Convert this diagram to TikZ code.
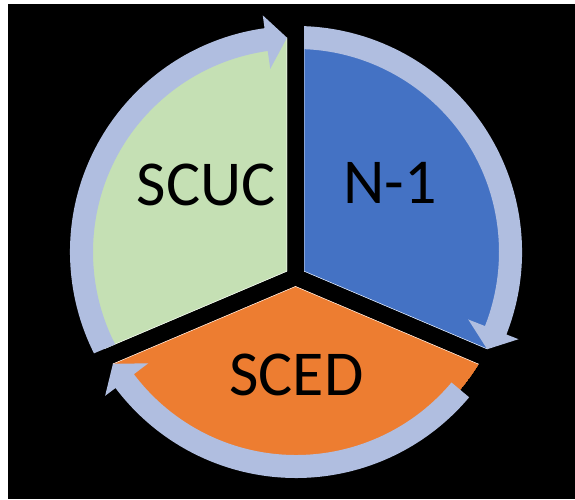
\documentclass[tikz,border=0pt]{standalone}
\usepackage{fontspec}
\setmainfont{Carlito}
\usepackage{tikz}
\usetikzlibrary{calc}

\definecolor{ringblue}{RGB}{176,190,224}
\definecolor{scucgreen}{RGB}{197,224,180}
\definecolor{nblue}{RGB}{68,114,196}
\definecolor{scedorange}{RGB}{237,125,49}

% ring piece: #1 start angle, #2 head base, #3 tip
\newcommand\cyclearrow[3]{%
  \fill[ring] ($(C)+(#1:203)$) arc[start angle=#1,end angle=#2,radius=203]
    -- ($(C)+(#2:185)$) -- ($(C)+(#3:214.5)$) -- ($(C)+(#2:239)$)
    -- ($(C)+(#2:226)$) arc[start angle=#2,end angle=#1,radius=226] -- cycle;}

\begin{document}
\begin{tikzpicture}[x=1pt,y=1pt,font=\fontsize{64}{64}\selectfont,
  ring/.style={fill=ringblue},
  edge/.style={draw=white,line width=0.9pt},
  label/.style={anchor=base,text=black}]
\path[use as bounding box] (0,0) rectangle (575,499);

% background
\fill[white] (0,0) rectangle (575,499);
\fill[black] (8,0) rectangle (575,495);

\coordinate (C) at (296,247);

% SCUC segment
\begin{scope}
  \clip (287,227.6) -- +(90:400) -- +(146.5:600) -- +(203:400) -- cycle;
  \begin{scope}
    \clip (C) circle[radius=214.5];
    \fill[scucgreen] (C) circle[radius=214.5];
    \draw[edge] (287,227.6) -- +(90:400) (287,227.6) -- +(203:400);
  \end{scope}
  \cyclearrow{220}{98}{92.4}
\end{scope}

% N-1 segment
\begin{scope}
  \clip (304,227.6) -- +(90:400) -- +(33.5:600) -- +(-23:400) -- cycle;
  \begin{scope}
    \clip (C) circle[radius=214.5];
    \fill[nblue] (C) circle[radius=214.5];
    \draw[edge] (304,227.6) -- +(90:400) (304,227.6) -- +(-23:400);
  \end{scope}
  \cyclearrow{95}{-21.4}{-26.95}
\end{scope}

% SCED segment
\begin{scope}
  \clip (295.5,212.8) -- +(203:400) -- +(270:600) -- +(337:400) -- cycle;
  \begin{scope}
    \clip (C) circle[radius=214.5];
    \fill[scedorange] (C) circle[radius=214.5];
    \draw[edge] (295.5,212.8) -- +(203:400) (295.5,212.8) -- +(337:400);
  \end{scope}
  \cyclearrow{-40}{-143}{-148.6}
\end{scope}

% labels
\node[label] (scuc) at (206,294) {SCUC};
\node[label] (n1) at (390,296) {N-1};
\node[label] (sced) at (296.5,104) {SCED};
\end{tikzpicture}
\end{document}
